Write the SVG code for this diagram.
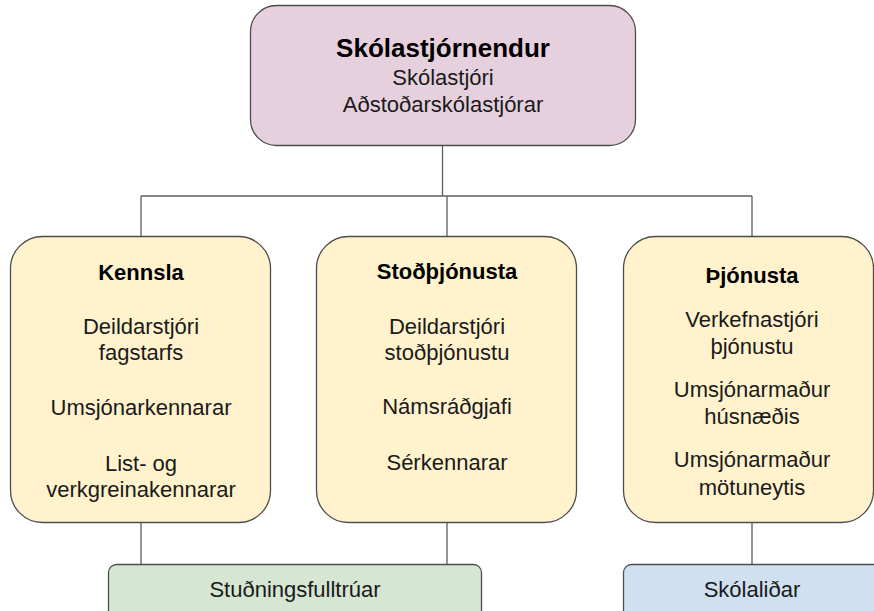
<svg xmlns="http://www.w3.org/2000/svg" width="874" height="611" viewBox="0 0 874 611">
<style>
.box{stroke:#4d4d4d;stroke-width:1.3}
.line{stroke:#5f5f5f;stroke-width:1.3;fill:none}
text{font-family:"Liberation Sans",Arial,sans-serif;text-anchor:middle;fill:#1a1a1a;font-size:22px}
.b{font-weight:bold;fill:#000}
.t{font-size:26px}
</style>
<rect width="874" height="611" fill="#ffffff"/>
<g id="connectors">
<path class="line" d="M442.5 145V196M141 196H752M141 196V236M447 196V236M752 196V236"/>
<path class="line" d="M141 522V564M447 522V564M752 523V564"/>
</g>
<g id="skolastjornendur">
<rect class="box" x="250.5" y="5.5" width="385" height="140" rx="26" fill="#e6d0de"/>
<text x="443" y="57" class="b t">Skólastjórnendur</text>
<text x="443" y="85">Skólastjóri</text>
<text x="443" y="112">Aðstoðarskólastjórar</text>
</g>
<g id="kennsla">
<rect class="box" x="10.5" y="236.5" width="260" height="286" rx="32" fill="#fff2cc"/>
<text x="141" y="280" class="b">Kennsla</text>
<text x="141" y="334">Deildarstjóri</text>
<text x="141" y="360">fagstarfs</text>
<text x="141" y="415">Umsjónarkennarar</text>
<text x="141" y="471">List- og</text>
<text x="141" y="497">verkgreinakennarar</text>
</g>
<g id="stodthjonusta">
<rect class="box" x="316.5" y="236.5" width="260" height="286" rx="32" fill="#fff2cc"/>
<text x="447" y="279" class="b">Stoðþjónusta</text>
<text x="447" y="334">Deildarstjóri</text>
<text x="447" y="360">stoðþjónustu</text>
<text x="447" y="414">Námsráðgjafi</text>
<text x="447" y="470">Sérkennarar</text>
</g>
<g id="thjonusta">
<rect class="box" x="623.5" y="236.5" width="250" height="286" rx="32" fill="#fff2cc"/>
<text x="752" y="283" class="b">Þjónusta</text>
<text x="752" y="327">Verkefnastjóri</text>
<text x="752" y="354">þjónustu</text>
<text x="752" y="397">Umsjónarmaður</text>
<text x="752" y="424">húsnæðis</text>
<text x="752" y="467">Umsjónarmaður</text>
<text x="752" y="495">mötuneytis</text>
</g>
<g id="studningsfulltruar">
<rect class="box" x="108.5" y="564.5" width="373" height="60" rx="8" fill="#d5e6d3"/>
<text x="295" y="597">Stuðningsfulltrúar</text>
</g>
<g id="skolalidar">
<rect class="box" x="623.5" y="564.5" width="258" height="60" rx="8" fill="#cfe0f0"/>
<text x="752" y="597">Skólaliðar</text>
</g>
</svg>
